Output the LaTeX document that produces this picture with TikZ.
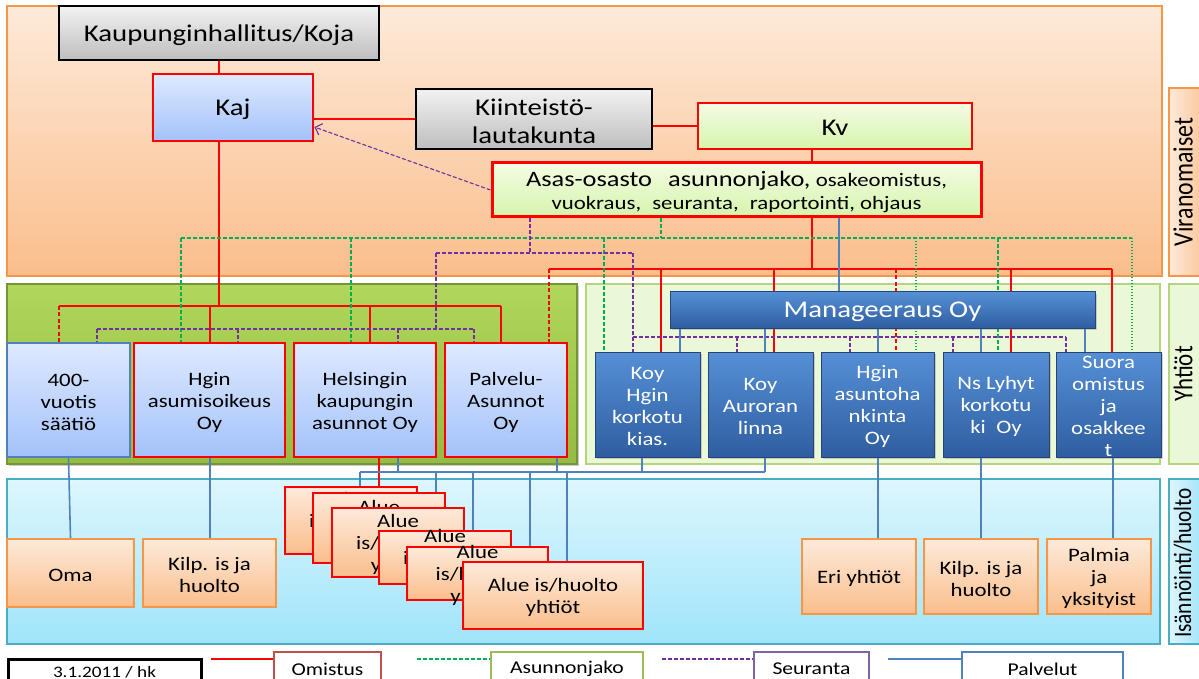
\documentclass[tikz,border=0pt]{standalone}
\usepackage{fontspec}
\setmainfont{Carlito}[FakeStretch=1.2]
\newfontfamily\rotfont{Carlito}[FakeStretch=0.85]
\usetikzlibrary{calc,arrows.meta,shadows}
\pgfdeclarelayer{bands}\pgfdeclarelayer{lines}
\pgfsetlayers{bands,lines,main}
\definecolor{cred}{RGB}{255,0,0}
\definecolor{cgreen}{RGB}{0,176,80}
\definecolor{cpurp}{RGB}{112,48,160}
\definecolor{cblue}{RGB}{79,129,189}
\definecolor{orbrd}{RGB}{247,150,70}
\definecolor{ortop}{RGB}{253,234,218}
\definecolor{orbot}{RGB}{250,190,140}
\definecolor{cytop}{RGB}{222,246,253}
\definecolor{cybot}{RGB}{160,228,250}
\definecolor{cybrd}{RGB}{75,172,198}
\definecolor{lgfill}{RGB}{235,248,216}
\definecolor{lgbrd}{RGB}{180,212,125}
\definecolor{ggtop}{RGB}{176,214,90}
\definecolor{ggbot}{RGB}{148,188,68}
\definecolor{ggbrd}{RGB}{118,148,58}
\definecolor{lbtop}{RGB}{222,233,255}
\definecolor{lbbot}{RGB}{163,194,250}
\definecolor{dbtop}{RGB}{86,143,214}
\definecolor{dbbot}{RGB}{46,94,160}
\definecolor{dbbrd}{RGB}{38,68,118}
\definecolor{gytop}{RGB}{242,242,242}
\definecolor{gybot}{RGB}{190,190,190}
\definecolor{kvtop}{RGB}{244,252,228}
\definecolor{kvbot}{RGB}{214,244,172}
\definecolor{legred}{RGB}{192,80,77}
\definecolor{leggrn}{RGB}{155,187,89}
\definecolor{legpur}{RGB}{128,100,162}
\newcommand\rx[6]{\node[#6, inner sep=0pt, minimum width={(#4-#2)*0.5pt}, minimum height={(#5-#3)*0.5pt}] (#1) at ({(#2+#4)/2},{(#3+#5)/2}) {};}
\newcommand\bx[8]{\rx{#1}{#2}{#3}{#4}{#5}{#6}\node[txt,#7] (#1-t) at ([yshift=-1pt]#1.center) {#8};}
\tikzset{
  txt/.style={align=center, inner sep=0pt, font=\fontsize{9.5pt}{11pt}\selectfont},
  big/.style={font=\fontsize{12pt}{14pt}\selectfont},
  wtxt/.style={text=white},
  grayb/.style={draw=black, line width=0.9pt, top color=gytop, bottom color=gybot},
  kajb/.style={draw=cred, line width=1.4pt, top color=lbtop, bottom color=lbbot},
  kvb/.style={draw=cred, line width=0.8pt, top color=kvtop, bottom color=kvbot},
  asasb/.style={draw=cred, line width=1.5pt, top color=kvtop, bottom color=kvbot},
  lbb/.style={draw=cblue, line width=0.6pt, top color=lbtop, bottom color=lbbot},
  lbr/.style={draw=cred, line width=0.9pt, top color=lbtop, bottom color=lbbot},
  lbrr/.style={draw=cred, line width=1.4pt, top color=lbtop, bottom color=lbbot},
  dbb/.style={draw=dbbrd, line width=0.5pt, top color=dbtop, bottom color=dbbot,
    drop shadow={opacity=0.35, shadow xshift=0.8pt, shadow yshift=-0.8pt}},
  orb/.style={draw=orbrd, line width=0.8pt, top color=ortop, bottom color=orbot},
  alb/.style={draw=cred, line width=0.8pt, top color=ortop, bottom color=orbot},
  legb/.style={draw=#1, line width=1.1pt, fill=white},
  dateb/.style={draw=black, line width=1.5pt, fill=white},
  own/.style={draw=cred, line width=0.8pt},
  ownt/.style={draw=cred, line width=1.2pt},
  ownd/.style={draw=cred, line width=0.7pt, dash pattern=on 2pt off 1.2pt},
  asu/.style={draw=cgreen, line width=0.55pt, dash pattern=on 2pt off 1pt},
  asudot/.style={draw=cgreen, line width=0.55pt, dash pattern=on 0.7pt off 0.8pt},
  seu/.style={draw=cpurp, line width=0.55pt, dash pattern=on 2pt off 1pt},
  pal/.style={draw=cblue, line width=0.8pt},
  rotl/.style={rotate=90, inner sep=0pt}
}
\begin{document}
\begin{tikzpicture}[x=0.5pt, y=-0.5pt]
\useasboundingbox (0,0) rectangle (1199,679);
\begin{pgfonlayer}{bands}
\fill[white] (0,0) rectangle (1199,679);
\rx{virband}{7}{6}{1162}{276}{draw=orbrd, line width=0.8pt, top color=ortop, bottom color=orbot}
\rx{yhl}{7}{284}{577}{464}{draw=ggbrd, line width=0.6pt, top color=ggtop, bottom color=ggbot, drop shadow={opacity=0.4, shadow xshift=1pt, shadow yshift=-1pt}}
\rx{yhr}{586}{284}{1160}{464}{draw=lgbrd, line width=0.9pt, fill=lgfill}
\rx{isband}{7}{479}{1160}{644}{draw=cybrd, line width=0.8pt, top color=cytop, bottom color=cybot}
\rx{virlab}{1169}{88}{1203}{276}{draw=orbrd, line width=0.8pt, left color=ortop, right color=orbot!80!ortop}
\node[rotl, font=\rotfont\fontsize{14pt}{16pt}\selectfont] (virlab-t) at (1183,182) {Viranomaiset};
\rx{yhlab}{1169}{284}{1203}{464}{draw=lgbrd, line width=0.9pt, fill=lgfill}
\node[rotl, font=\rotfont\fontsize{13.5pt}{16pt}\selectfont] (yhlab-t) at (1183,374) {Yhtiöt};
\rx{islab}{1169}{479}{1203}{644}{draw=cybrd, line width=0.8pt, left color=cytop, right color=cybot}
\node[rotl, font=\rotfont\fontsize{12.5pt}{15pt}\selectfont] (islab-t) at (1183,563) {Isännöinti/huolto};
\end{pgfonlayer}
% top level
\bx{kh}{59}{6}{379}{60}{grayb}{big}{Kaupunginhallitus/Koja}
\bx{kaj}{153}{74}{313}{141}{kajb}{big}{Kaj}
\bx{kiint}{416}{89}{652}{149}{grayb}{big}{Kiinteistö-\\lautakunta}
\bx{kv}{698}{103}{972}{149}{kvb}{big}{Kv}
\bx{asas}{492}{163}{981}{217}{asasb}{font=\fontsize{9.5pt}{11.5pt}\selectfont}{{\fontsize{11pt}{11.5pt}\selectfont Asas-osasto\hspace{8pt}asunnonjako,} osakeomistus,\\vuokraus,\hspace{3pt} seuranta,\hspace{3pt} raportointi, ohjaus}
% companies left
\bx{b1}{7}{343}{130}{457}{lbb}{}{400-\\vuotis\\säätiö}
\bx{b2}{134}{343}{285}{457}{lbr}{}{Hgin\\asumisoikeus\\Oy}
\bx{b3}{294}{343}{436}{457}{lbrr}{}{Helsingin\\kaupungin\\asunnot Oy}
\bx{b4}{445}{343}{567}{457}{lbr}{}{Palvelu-\\Asunnot\\Oy}
% companies right
\bx{mg}{670}{292}{1095}{328}{dbb}{wtxt, big}{Manageeraus Oy}
\bx{koy1}{595}{352}{700}{457}{dbb}{wtxt}{Koy\\Hgin\\korkotu\\kias.}
\bx{koy2}{708}{352}{813}{457}{dbb}{wtxt}{Koy\\Auroran\\linna}
\bx{koy3}{821}{352}{934}{457}{dbb}{wtxt}{Hgin\\asuntoha\\nkinta\\Oy}
\bx{ns}{943}{352}{1049}{457}{dbb}{wtxt}{Ns Lyhyt\\korkotu\\ki\ \ Oy}
\bx{suora}{1056}{352}{1161}{457}{dbb}{wtxt}{Suora\\omistus\\ja\\osakkee\\t}
% maintenance
\bx{oma}{7}{539}{134}{607}{orb}{}{Oma}
\bx{kilp1}{143}{539}{276}{607}{orb}{}{Kilp. is ja\\huolto}
\bx{eri}{802}{539}{916}{614}{orb}{}{Eri yhtiöt}
\bx{kilp2}{924}{539}{1038}{614}{orb}{}{Kilp. is ja\\huolto}
\bx{palmia}{1047}{539}{1151}{614}{orb}{}{Palmia\\ja\\yksityist}
\bx{alue1}{285}{487}{417}{554}{alb}{}{Alue\\is/huolto\\yhtiöt}
\bx{alue2}{313}{493}{445}{563}{alb}{}{Alue\\is/huolto\\yhtiöt}
\bx{alue3}{332}{508}{464}{577}{alb}{}{Alue\\is/huolto\\yhtiöt}
\bx{alue4}{379}{531}{511}{584}{alb}{}{Alue\\is/huolto\\yhtiöt}
\bx{alue5}{407}{547}{548}{600}{alb}{}{Alue\\is/huolto\\yhtiöt}
\bx{alue6}{463}{562}{643}{629}{alb}{}{Alue is/huolto\\yhtiöt}
% legend
\bx{date}{8}{659}{201}{682}{dateb}{font=\fontsize{8pt}{9pt}\selectfont}{3.1.2011 / hk}
\bx{lom}{274}{652}{381}{682}{legb=legred}{font=\fontsize{9pt}{10pt}\selectfont}{Omistus}
\bx{lasu}{491}{652}{643}{682}{legb=leggrn}{font=\fontsize{9pt}{10pt}\selectfont}{Asunnonjako}
\bx{lseu}{754}{652}{869}{682}{legb=legpur}{font=\fontsize{9pt}{10pt}\selectfont}{Seuranta}
\bx{lpal}{962}{652}{1123}{682}{legb=cblue}{font=\fontsize{9pt}{10pt}\selectfont}{Palvelut}
\coordinate (l1) at (211,659);
\coordinate (l2) at (417,659);
\coordinate (l3) at (662,659);
\coordinate (l4) at (888,659);
\begin{pgfonlayer}{lines}
% ---- Omistus (red)
\coordinate (rk) at (219,0);
\draw[own] (kh.south -| rk) -- (kaj.north -| rk);
\draw[own] (kiint.west) -- (kiint.west -| kaj.east);
\draw[own] (kv.west) -- (kv.west -| kiint.east);
\coordinate (rB) at (812,269);
\draw[own] (kv.south -| rB) -- (asas.north -| rB);
\draw[own] (asas.south -| rB) -- (rB);
\coordinate (rA) at (219,306);
\draw[own] (kaj.south -| rA) -- (rA);
\coordinate (rA1) at (59,306);
\coordinate (rA2) at (210,306);
\coordinate (rA3) at (370,306);
\coordinate (rA4) at (501,306);
\draw[own] (rA1) -- (rA4);
\draw[ownd] (rA1) -- (rA1 |- b1.north);
\draw[own] (rA2) -- (rA2 |- b2.north);
\draw[ownt] (rA3) -- (rA3 |- b3.north);
\draw[own] (rA4) -- (rA4 |- b4.north);
\coordinate (rB1) at (549,269);
\coordinate (rB2) at (661,269);
\coordinate (rB3) at (774,269);
\coordinate (rB4) at (896,269);
\coordinate (rB5) at (1011,269);
\coordinate (rB6) at (1112,269);
\draw[own] (rB1) -- (rB6);
\draw[ownd] (rB1) -- (rB1 |- b4.north);
\draw[own] (rB2) -- (rB2 |- koy1.north);
\draw[own] (rB3) -- (rB3 |- koy2.north);
\draw[ownd] (rB4) -- (rB4 |- koy3.north);
\draw[own] (rB5) -- (rB5 |- ns.north);
\draw[own] (rB6) -- (rB6 |- suora.north);
\coordinate (rH) at (379,0);
\draw[own] (b3.south -| rH) -- (alue1.north -| rH);
% ---- Asunnonjako (green)
\coordinate (gA) at (661,238);
\draw[asu] (asas.south -| gA) -- (gA);
\coordinate (g1) at (181,238);
\coordinate (g2) at (351,238);
\coordinate (g3) at (604,238);
\coordinate (g4) at (916,238);
\coordinate (g5) at (998,238);
\coordinate (g6) at (1132,238);
\draw[asu] (g1) -- (g6);
\draw[asu] (g1) -- (g1 |- b2.north);
\draw[asu] (g2) -- (g2 |- b3.north);
\draw[asu] (g3) -- (g3 |- koy1.north);
\draw[asudot] (g4) -- (g4 |- koy3.north);
\draw[asu] (g5) -- (g5 |- ns.north);
\draw[asudot] (g6) -- (g6 |- suora.north);
% ---- Seuranta (purple)
\draw[seu, -{Straight Barb[length=3pt, width=6pt]}] (asas.west) -- ($(kaj.south east)!0.22!(kaj.north east)$);
\coordinate (pA) at (530,253);
\draw[seu] (asas.south -| pA) -- (pA);
\coordinate (pL) at (436,253);
\coordinate (pR) at (633,253);
\draw[seu] (pL) -- (pR);
\coordinate (pL0) at (436,329);
\draw[seu] (pL) -- (pL0);
\coordinate (p1) at (97,329);
\coordinate (p2) at (238,329);
\coordinate (p3) at (398,329);
\coordinate (p4) at (474,329);
\draw[seu] (p1) -- (p4);
\draw[seu] (p1) -- (p1 |- b1.north);
\draw[seu] (p2) -- (p2 |- b2.north);
\draw[seu] (p3) -- (p3 |- b3.north);
\draw[seu] (p4) -- (p4 |- b4.north);
\draw[seu] (pR) -- (pR |- koy1.north);
\coordinate (q1) at (633,337);
\coordinate (q2) at (737,337);
\coordinate (q3) at (850,337);
\coordinate (q4) at (953,337);
\coordinate (q5) at (1066,337);
\draw[seu] (q1) -- (q5);
\draw[seu] (q2) -- (q2 |- koy2.north);
\draw[seu] (q3) -- (q3 |- koy3.north);
\draw[seu] (q4) -- (q4 |- ns.north);
\draw[seu] (q5) -- (q5 |- suora.north);
% ---- Palvelut (blue)
\coordinate (bA) at (839,0);
\draw[pal] (asas.south -| bA) -- (mg.north -| bA);
\coordinate (m1) at (680,0);
\coordinate (m2) at (765,0);
\coordinate (m3) at (878,0);
\coordinate (m4) at (981,0);
\coordinate (m5) at (1085,0);
\draw[pal] (mg.south -| m1) -- (koy1.north -| m1);
\draw[pal] (mg.south -| m2) -- (koy2.north -| m2);
\draw[pal] (mg.south -| m3) -- (koy3.north -| m3);
\draw[pal] (mg.south -| m4) -- (ns.north -| m4);
\draw[pal] (mg.south -| m5) -- (suora.north -| m5);
\draw[pal] (b1.south) -- (oma.north);
\coordinate (m0) at (210,0);
\draw[pal] (b2.south -| m0) -- (kilp1.north -| m0);
\coordinate (s0) at (360,472);
\coordinate (s1) at (398,472);
\coordinate (s2) at (436,472);
\coordinate (s3) at (473,472);
\coordinate (s4) at (530,472);
\coordinate (s5) at (557,472);
\coordinate (s6) at (567,472);
\coordinate (s7) at (642,472);
\coordinate (s8) at (765,472);
\draw[pal] (s0) -- (s8);
\draw[pal] (b3.south -| s1) -- (s1);
\draw[pal] (b4.south -| s5) -- (s5);
\draw[pal] (koy1.south -| s7) -- (s7);
\draw[pal] (koy2.south -| s8) -- (s8);
\draw[pal] (s0) -- (s0 |- alue2.north);
\draw[pal] (s2) -- (s2 |- alue2.north);
\draw[pal] (s3) -- (s3 |- alue4.north);
\draw[pal] (s4) -- (s4 |- alue5.north);
\draw[pal] (s6) -- (s6 |- alue6.north);
\draw[pal] (koy3.south -| m3) -- (eri.north -| m3);
\draw[pal] (ns.south -| m4) -- (kilp2.north -| m4);
\coordinate (m6) at (1113,0);
\draw[pal] (suora.south -| m6) -- (palmia.north -| m6);
% ---- legend lines
\draw[own] (l1) -- (l1 -| lom.west);
\draw[asu] (l2) -- (l2 -| lasu.west);
\draw[seu] (l3) -- (l3 -| lseu.west);
\draw[pal] (l4) -- (l4 -| lpal.west);
\end{pgfonlayer}
\end{tikzpicture}
\end{document}
